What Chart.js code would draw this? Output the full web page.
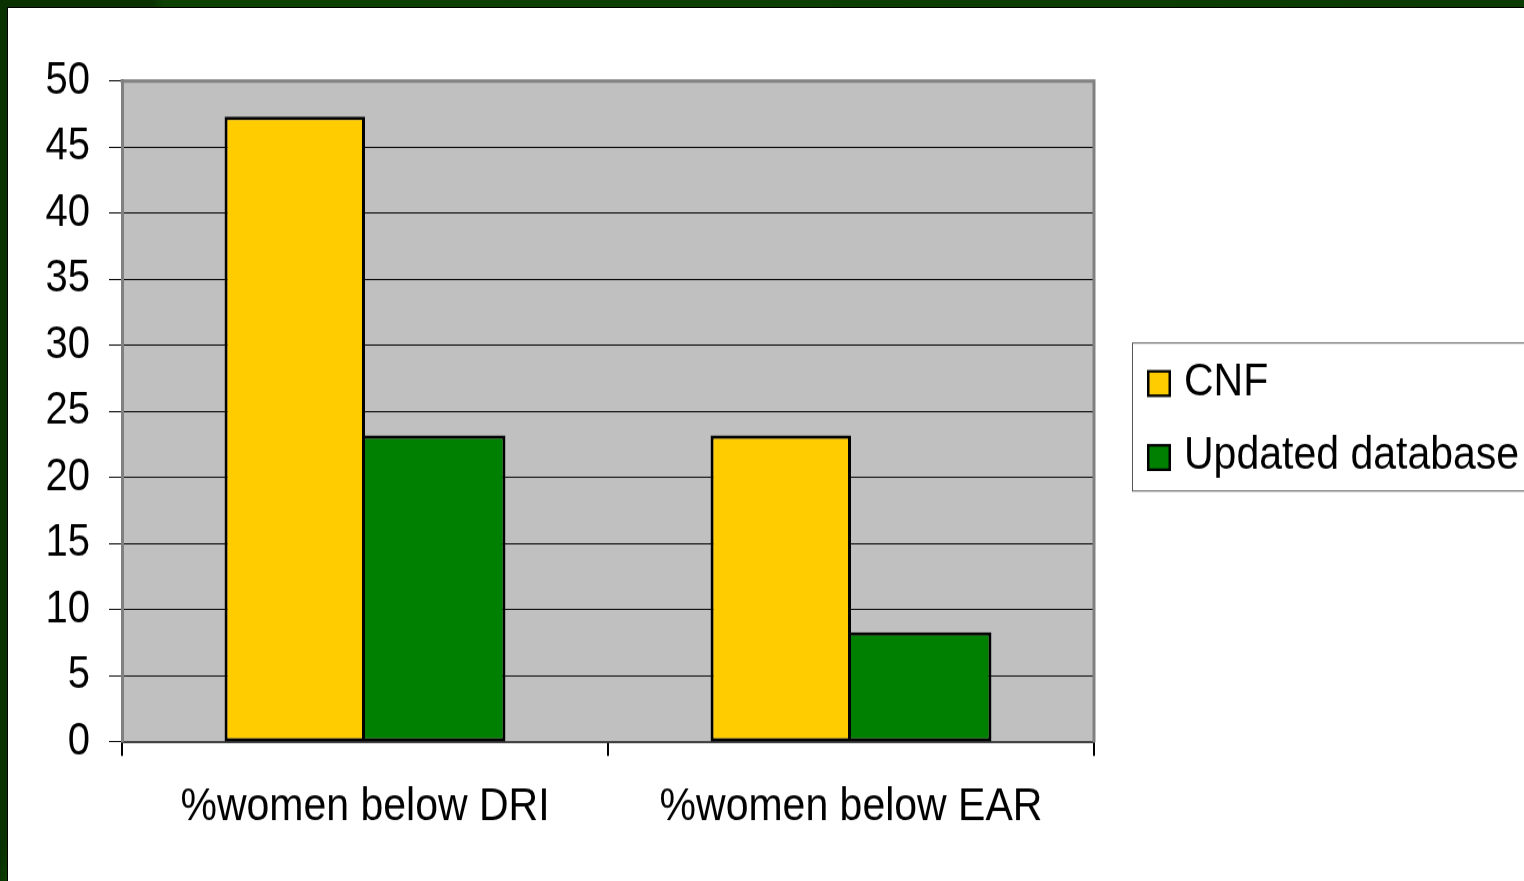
<!DOCTYPE html>
<html>
<head>
<meta charset="utf-8">
<script src="https://cdn.jsdelivr.net/npm/chart.js@4/dist/chart.umd.min.js"></script>
<style>
  html, body { margin: 0; padding: 0; width: 1524px; height: 881px; overflow: hidden; }
  body { background: linear-gradient(100deg, #0a3100 0, #0a3100 150px, #0d4202 162px, #0b3a02 100%); position: relative; }
  #sheet { position: absolute; left: 7px; top: 7px; width: 1517px; height: 874px; background: #fff;
           border-left: 1px solid #000; border-top: 1px solid #000; }
  #wrap { position: absolute; left: 0; top: 0; width: 1524px; height: 780px;
          transform: scaleY(1.129487); transform-origin: 0 0; }
  canvas { display: block; }
</style>
</head>
<body>
<div id="sheet"></div>
<div id="wrap"><canvas id="c" width="1524" height="780"></canvas></div>
<script>
// Share of women below the reference intakes, by composition database
const categories = ['%women below DRI', '%women below EAR'];
const seriesNames = ['CNF', 'Updated database'];
const cnfValues = [47.3, 23.2];
const updatedValues = [23.2, 8.3];
const yTicks = [0, 5, 10, 15, 20, 25, 30, 35, 40, 45, 50];

const FONT = '"Liberation Sans", Arial, sans-serif';
const K = 881 / 780; // vertical stretch applied to the canvas

// Grey plotting area behind the grid
const plotBackground = {
  id: 'plotBackground',
  beforeDraw(chart) {
    const { ctx, chartArea: a } = chart;
    ctx.save();
    ctx.fillStyle = '#c0c0c0';
    ctx.fillRect(a.left, a.top, a.right - a.left, a.bottom - a.top);
    ctx.restore();
  }
};

// Top and right edges of the plotting area
const plotFrame = {
  id: 'plotFrame',
  afterDraw(chart) {
    const { ctx, chartArea: a } = chart;
    ctx.save();
    ctx.strokeStyle = '#808080';
    ctx.lineWidth = 3;
    ctx.beginPath();
    ctx.moveTo(a.left - 1.5, a.top);
    ctx.lineTo(a.right, a.top);
    ctx.lineTo(a.right, a.bottom);
    ctx.stroke();
    ctx.restore();
  }
};

// Boxed legend to the right of the plot
const boxLegend = {
  id: 'boxLegend',
  afterDraw(chart) {
    const { ctx } = chart;
    const top = 343 / K, bottom = 491 / K, left = 1132.5;
    ctx.save();
    ctx.fillStyle = '#fff';
    ctx.fillRect(left, top, 600, bottom - top);
    ctx.strokeStyle = '#555';
    ctx.lineWidth = 1;
    ctx.strokeRect(left, top, 600, bottom - top);
    const rows = [
      { y0: 370 / K, y1: 397 / K, base: 395 / K },
      { y0: 444 / K, y1: 471 / K, base: 469.3 / K }
    ];
    chart.data.datasets.forEach((ds, i) => {
      const r = rows[i];
      ctx.fillStyle = '#000';
      ctx.fillRect(1147, r.y0, 24, r.y1 - r.y0);
      ctx.fillStyle = ds.backgroundColor;
      ctx.fillRect(1149.5, r.y0 + 2.3, 19, r.y1 - r.y0 - 4.6);
      ctx.fillStyle = '#000';
      ctx.font = '41px ' + FONT;
      ctx.textBaseline = 'alphabetic';
      ctx.textAlign = 'left';
      ctx.fillText(ds.label, 1184, r.base);
    });
    ctx.restore();
  }
};

new Chart(document.getElementById('c'), {
  type: 'bar',
  data: {
    labels: categories,
    datasets: [
      {
        label: seriesNames[0],
        data: cnfValues,
        backgroundColor: '#ffcc00',
        borderColor: '#000',
        borderWidth: { top: 3, right: 3, bottom: 3, left: 3 },
        borderSkipped: false
      },
      {
        label: seriesNames[1],
        data: updatedValues,
        backgroundColor: '#008000',
        borderColor: '#000',
        borderWidth: { top: 3, right: 3, bottom: 3, left: 0 },
        borderSkipped: false
      }
    ]
  },
  options: {
    responsive: false,
    animation: false,
    devicePixelRatio: 1,
    categoryPercentage: 0.578,
    barPercentage: 1,
    layout: { padding: { top: 81 / K, right: 430, bottom: 0, left: 0 } },
    plugins: { legend: { display: false }, tooltip: { enabled: false } },
    scales: {
      x: {
        offset: true,
        grid: { offset: true, drawOnChartArea: false, drawTicks: true, tickLength: 14 / K, color: '#000', lineWidth: 2 },
        border: { display: true, color: '#404040', width: 2 },
        ticks: { color: '#000', font: { family: FONT, size: 41 }, padding: 21, maxRotation: 0 },
        afterFit(scale) { scale.height = 780 - 742 / K; }
      },
      y: {
        min: 0,
        max: 50,
        afterBuildTicks(scale) { scale.ticks = yTicks.map(v => ({ value: v })); },
        grid: { color: '#000', lineWidth: 1, tickLength: 13, drawTicks: true },
        border: { display: true, color: '#808080', width: 3 },
        ticks: { color: '#000', font: { family: FONT, size: 40 }, padding: 19 },
        afterFit(scale) { scale.width = 122; }
      }
    }
  },
  plugins: [plotBackground, plotFrame, boxLegend]
});
</script>
</body>
</html>
